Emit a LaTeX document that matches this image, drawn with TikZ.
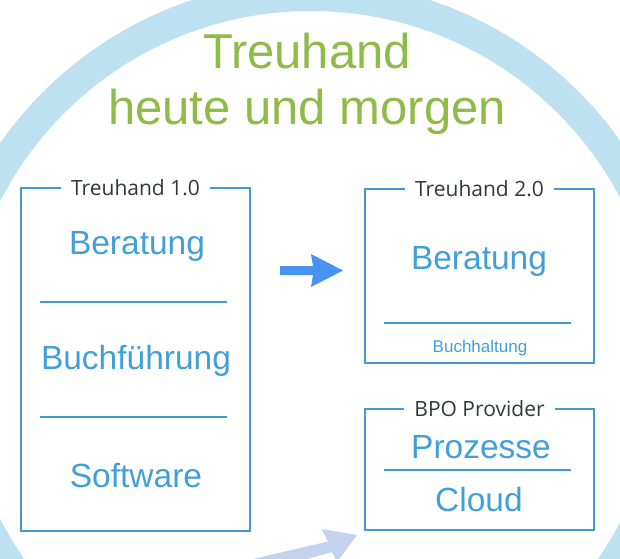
\documentclass[tikz,border=0pt]{standalone}
\usepackage{fontspec}
\setmainfont{Liberation Sans}
\newfontfamily\lblfont{Open Sans}
\definecolor{ringblue}{RGB}{190,225,242}
\definecolor{lineblue}{RGB}{62,155,212}
\definecolor{txtblue}{RGB}{66,160,216}
\definecolor{titlegreen}{RGB}{143,188,72}
\definecolor{lblgray}{RGB}{52,56,60}
\definecolor{arrowblue}{RGB}{72,146,240}
\definecolor{arrowpale}{RGB}{195,211,238}
\begin{document}
\begin{tikzpicture}[x=1pt,y=-1pt,
  frame/.style={draw=lineblue, line width=2pt, fill=white, inner sep=0pt},
  lbl/.style={fill=white, text=lblgray, font=\lblfont\fontsize{21}{24}\selectfont, inner xsep=10pt, inner ysep=2pt, anchor=base},
  big/.style={text=txtblue, font=\fontsize{33.5}{40}\selectfont, inner sep=0pt, anchor=base},
  small/.style={text=txtblue, font=\fontsize{17}{20}\selectfont, inner sep=0pt, anchor=base},
  title/.style={text=titlegreen, font=\fontsize{49}{56}\selectfont, inner sep=0pt, anchor=base},
  divider/.style={draw=lineblue, line width=2pt}]
\useasboundingbox (0,0) rectangle (620,558);
\clip (0,0) rectangle (620,558);
\fill[white] (0,0) rectangle (620,558);
% ring
\draw[ringblue, line width=30pt] (311,360) circle[radius=364pt];
% title
\node[title] (t1) at (307,68) {Treuhand};
\node[title] (t2) at (307,124) {heute und morgen};
% boxes
\node[frame, minimum width=229pt, minimum height=343pt] (b1) at (135.5,359.5) {};
\node[frame, minimum width=229pt, minimum height=174pt] (b2) at (479.5,276) {};
\node[frame, minimum width=229pt, minimum height=121pt] (b3) at (479.5,469.5) {};
% labels
\node[lbl] (l1) at ([yshift=-8pt]b1.north) {Treuhand 1.0};
\node[lbl] (l2) at ([yshift=-8pt]b2.north) {Treuhand 2.0};
\node[lbl] (l3) at ([yshift=-8pt]b3.north) {BPO Provider};
% box 1 content
\node[big] (c11) at (137,254) {Beratung};
\draw[divider] (40,302) -- (227,302);
\node[big] (c12) at (136,369) {Buchführung};
\draw[divider] (40,417) -- (227,417);
\node[big] (c13) at (136,487) {Software};
% box 2 content
\node[big] (c21) at (479,269) {Beratung};
\draw[divider] (384,323) -- (571,323);
\node[small] (c22) at (480,352) {Buchhaltung};
% box 3 content
\node[big] (c31) at (481,458) {Prozesse};
\draw[divider] (384,470) -- (571,470);
\node[big] (c32) at (479,511) {Cloud};
% middle arrow
\fill[arrowblue] (280,266) -- (313,266) -- (311,254) -- (343,270.5) -- (311,287) -- (313,275) -- (280,275) -- cycle;
% bottom arrow
\fill[arrowpale] (357,535) -- (321.5,529) -- (328,541.5) -- (240,562) -- (250,575) -- (332,552) -- (337,562) -- cycle;
\end{tikzpicture}
\end{document}
